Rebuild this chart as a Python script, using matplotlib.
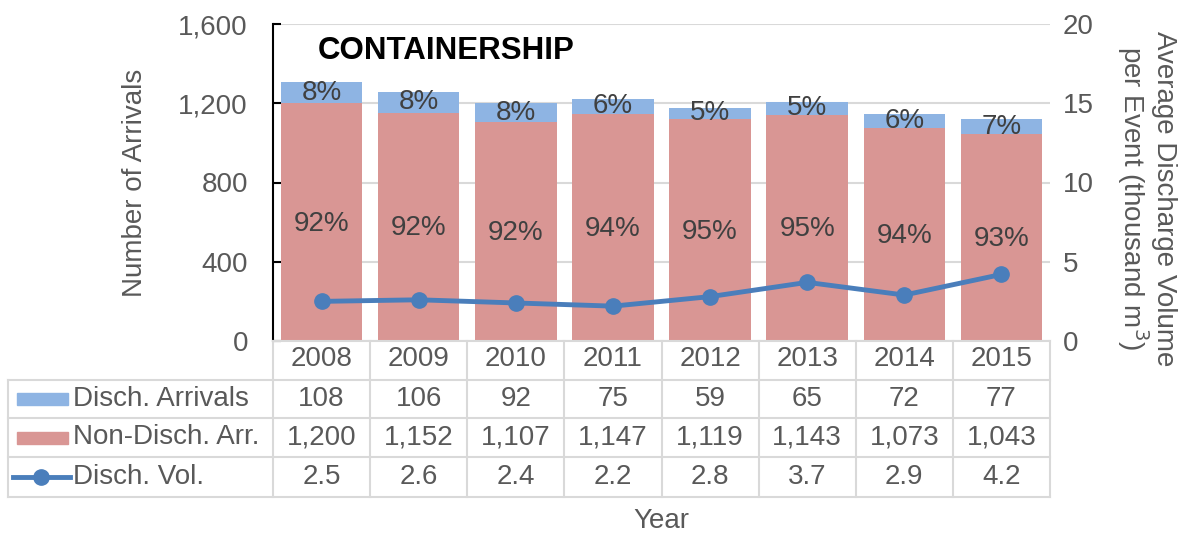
import numpy as np
import matplotlib.pyplot as plt
from matplotlib import transforms
from matplotlib.patches import Rectangle
from matplotlib.lines import Line2D
from matplotlib.ticker import FuncFormatter

plt.rcParams['font.family'] = ['Liberation Sans', 'DejaVu Sans']
plt.rcParams['font.size'] = 20

years = ['2008', '2009', '2010', '2011', '2012', '2013', '2014', '2015']
disch_arrivals = [108, 106, 92, 75, 59, 65, 72, 77]
non_disch_arrivals = [1200, 1152, 1107, 1147, 1119, 1143, 1073, 1043]
disch_volume = [2.5, 2.6, 2.4, 2.2, 2.8, 3.7, 2.9, 4.2]

BLUE = '#8EB4E3'
RED = '#D99694'
LINE = '#4A7EBB'
GRID = '#D9D9D9'
TXT = '#595959'
LBL = '#404040'

W, H = 1178, 535
fig = plt.figure(figsize=(W / 100, H / 100), dpi=100)


def fx(px):
    return px / W


def fy(py):
    return 1 - py / H


ax = fig.add_axes([fx(273), fy(341), fx(1050) - fx(273), fy(24) - fy(341)])
x = np.arange(len(years))
da = np.array(disch_arrivals)
nd = np.array(non_disch_arrivals)
tot = da + nd

ax.bar(x, nd, width=0.84, color=RED, zorder=2)
ax.bar(x, da, bottom=nd, width=0.84, color=BLUE, zorder=2)
ax.set_xlim(-0.5, len(years) - 0.5)
ax.set_ylim(0, 1600)
ax.set_yticks(range(0, 1601, 400))
ax.yaxis.set_major_formatter(FuncFormatter(lambda v, p: f'{int(v):,}'))
ax.yaxis.grid(True, color=GRID, lw=1.5)
ax.set_axisbelow(True)
ax.set_xticks([])
for s in ['top', 'right', 'bottom']:
    ax.spines[s].set_visible(False)
ax.spines['left'].set_linewidth(1.5)
ax.tick_params(axis='y', direction='in', length=6, width=1.5, pad=18, labelcolor=TXT)
ax.set_ylabel('Number of Arrivals', color=TXT)
ax.yaxis.set_label_coords(-0.161, 0.5)

# share labels inside each stacked segment
for i in range(len(years)):
    p_d = round(100 * da[i] / tot[i])
    ax.text(x[i], nd[i] + da[i] / 2, f'{p_d}%', ha='center', va='center', color=LBL, zorder=3)
    ax.text(x[i], nd[i] / 2 - 8, f'{100 - p_d}%', ha='center', va='center', color=LBL, zorder=3)

ax.text(fx(318), fy(51), 'CONTAINERSHIP', transform=fig.transFigure, fontsize=22.5,
        fontweight='bold', ha='left', va='center', color='black')

ax2 = ax.twinx()
ax2.plot(x, disch_volume, color=LINE, lw=3.5, marker='o', ms=11, zorder=4)
ax2.set_ylim(0, 20)
ax2.set_yticks(range(0, 21, 5))
for s in ax2.spines.values():
    s.set_visible(False)
ax2.tick_params(axis='y', length=0, pad=9, labelcolor=TXT)
ax2.set_ylabel('Average Discharge Volume\nper Event (thousand m$^3$)', color=TXT,
               rotation=270, linespacing=1.0, va='center', ha='center')
ax2.yaxis.set_label_coords(1.123, 0.45)

# data table under the plot: x follows the category axis, y in figure units
bt = transforms.blended_transform_factory(ax.transData, fig.transFigure)
rows = [341, 380, 418, 457, 497]
edges = np.arange(len(years) + 1) - 0.5


def hline(y, x0, x1):
    fig.add_artist(Line2D([fx(x0), fx(x1)], [fy(y), fy(y)], color=GRID, lw=1.5))


hline(rows[0], 273, 1050)
for r in rows[1:]:
    hline(r, 8, 1050)
for e in edges:
    fig.add_artist(Line2D([e, e], [fy(rows[0]), fy(rows[-1])], transform=bt, color=GRID, lw=1.5))
fig.add_artist(Line2D([fx(8), fx(8)], [fy(rows[1]), fy(rows[-1])], color=GRID, lw=1.5))

table_rows = [
    [f'{v:,}' for v in disch_arrivals],
    [f'{v:,}' for v in non_disch_arrivals],
    [f'{v:.1f}' for v in disch_volume],
]
labels = ['Disch. Arrivals', 'Non-Disch. Arr.', 'Disch. Vol.']

for i, yr in enumerate(years):
    fig.text(x[i], fy((rows[0] + rows[1]) / 2 - 1), yr, transform=bt, ha='center', va='center', color=TXT)
for r, vals in enumerate(table_rows):
    yc = fy((rows[r + 1] + rows[r + 2]) / 2)
    for i, v in enumerate(vals):
        fig.text(x[i], yc, v, transform=bt, ha='center', va='center', color=TXT)
    fig.text(fx(73), yc, labels[r], ha='left', va='center', color=TXT)

# legend keys in the row headers
ky = [(rows[1] + rows[2]) / 2, (rows[2] + rows[3]) / 2, (rows[3] + rows[4]) / 2]
for k, c in zip(ky[:2], [BLUE, RED]):
    fig.add_artist(Rectangle((fx(17), fy(k + 6)), fx(68) - fx(17), fy(k - 6) - fy(k + 6),
                             transform=fig.transFigure, color=c))
fig.add_artist(Line2D([fx(13), fx(70)], [fy(ky[2]), fy(ky[2])], color=LINE, lw=3.5))
fig.add_artist(Line2D([fx(41)], [fy(ky[2])], color=LINE, marker='o', ms=11))

fig.text(fx(661), fy(521), 'Year', ha='center', va='center', color=TXT)

fig.savefig('out.png', dpi=100)
